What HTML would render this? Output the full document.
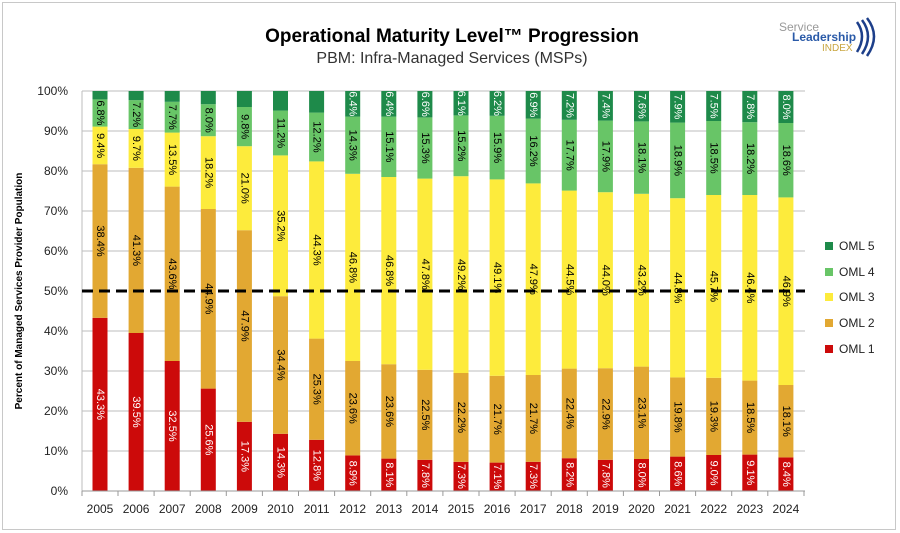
<!DOCTYPE html>
<html><head><meta charset="utf-8"><style>
body{margin:0;background:#fff}
svg{display:block;font-family:"Liberation Sans",sans-serif}
.l{font-size:11px;text-anchor:middle;dominant-baseline:central}
.w{fill:#fff}
.yt{font-size:12px;text-anchor:end;dominant-baseline:central;fill:#222}
.xt{font-size:12px;text-anchor:middle;fill:#222}
.r1{fill:#CC0A0A}.r2{fill:#E2A832}.r3{fill:#FDEB3C}.r4{fill:#68C567}.r5{fill:#1E8A4A}
</style></head><body>
<svg width="900" height="533" viewBox="0 0 900 533">
<rect x="2.5" y="2.5" width="893" height="527" fill="#fff" stroke="#c8c8c8"/>
<text x="452" y="42" font-size="19" font-weight="bold" text-anchor="middle">Operational Maturity Level™ Progression</text>
<text x="452" y="63" font-size="16" text-anchor="middle" fill="#333">PBM: Infra-Managed Services (MSPs)</text>
<text x="779" y="31" font-size="12" fill="#999">Service</text>
<text x="792" y="41" font-size="12" fill="#2a5aa8" font-weight="bold">Leadership</text>
<text x="822" y="51" font-size="10" fill="#c9a640">INDEX</text>
<path d="M857 22 q10 14 0 30 M862 20 q12 16 0 34 M867 18 q14 18 0 38" stroke="#1d3f8a" stroke-width="2.5" fill="none"/>
<g stroke="#bdbdbd" stroke-width="1">
<line x1="82" y1="91" x2="805" y2="91"/><line x1="82" y1="131" x2="805" y2="131"/><line x1="82" y1="171" x2="805" y2="171"/><line x1="82" y1="211" x2="805" y2="211"/><line x1="82" y1="251" x2="805" y2="251"/><line x1="82" y1="331" x2="805" y2="331"/><line x1="82" y1="371" x2="805" y2="371"/><line x1="82" y1="411" x2="805" y2="411"/><line x1="82" y1="451" x2="805" y2="451"/><line x1="82" y1="491" x2="805" y2="491"/>
<line x1="82" y1="91" x2="82" y2="491"/>
</g>
<g class="yt">
<text x="68" y="91">100%</text><text x="68" y="131">90%</text><text x="68" y="171">80%</text><text x="68" y="211">70%</text><text x="68" y="251">60%</text><text x="68" y="291">50%</text><text x="68" y="331">40%</text><text x="68" y="371">30%</text><text x="68" y="411">20%</text><text x="68" y="451">10%</text><text x="68" y="491">0%</text>
</g>
<text transform="translate(22,291) rotate(-90)" font-size="10" font-weight="bold" text-anchor="middle">Percent of Managed Services Provider Population</text>

<g transform="translate(100,0)"><rect class="r1" x="-7.5" y="317.8" width="15" height="173.2"/><rect class="r2" x="-7.5" y="164.2" width="15" height="153.6"/><rect class="r3" x="-7.5" y="126.6" width="15" height="37.6"/><rect class="r4" x="-7.5" y="99.4" width="15" height="27.2"/><rect class="r5" x="-7.5" y="91" width="15" height="8.4"/>
<text class="l w" transform="translate(0,404.4) rotate(90)">43.3%</text><text class="l" transform="translate(0,241) rotate(90)">38.4%</text><text class="l" transform="translate(0,145.6) rotate(90)">9.4%</text><text class="l" transform="translate(0,112.9) rotate(90)">6.8%</text></g>
<g transform="translate(136.1,0)"><rect class="r1" x="-7.5" y="333" width="15" height="158"/><rect class="r2" x="-7.5" y="167.8" width="15" height="165.2"/><rect class="r3" x="-7.5" y="129" width="15" height="38.8"/><rect class="r4" x="-7.5" y="100.2" width="15" height="28.8"/><rect class="r5" x="-7.5" y="91" width="15" height="9.2"/>
<text class="l w" transform="translate(0,412) rotate(90)">39.5%</text><text class="l" transform="translate(0,250.4) rotate(90)">41.3%</text><text class="l" transform="translate(0,148.4) rotate(90)">9.7%</text><text class="l" transform="translate(0,114.6) rotate(90)">7.2%</text></g>
<g transform="translate(172.2,0)"><rect class="r1" x="-7.5" y="361" width="15" height="130"/><rect class="r2" x="-7.5" y="186.6" width="15" height="174.4"/><rect class="r3" x="-7.5" y="132.6" width="15" height="54"/><rect class="r4" x="-7.5" y="101.8" width="15" height="30.8"/><rect class="r5" x="-7.5" y="91" width="15" height="10.8"/>
<text class="l w" transform="translate(0,426) rotate(90)">32.5%</text><text class="l" transform="translate(0,273.8) rotate(90)">43.6%</text><text class="l" transform="translate(0,159.6) rotate(90)">13.5%</text><text class="l" transform="translate(0,117.2) rotate(90)">7.7%</text></g>
<g transform="translate(208.3,0)"><rect class="r1" x="-7.5" y="388.6" width="15" height="102.4"/><rect class="r2" x="-7.5" y="209" width="15" height="179.6"/><rect class="r3" x="-7.5" y="136.2" width="15" height="72.8"/><rect class="r4" x="-7.5" y="104.2" width="15" height="32"/><rect class="r5" x="-7.5" y="91" width="15" height="13.2"/>
<text class="l w" transform="translate(0,439.8) rotate(90)">25.6%</text><text class="l" transform="translate(0,298.8) rotate(90)">44.9%</text><text class="l" transform="translate(0,172.6) rotate(90)">18.2%</text><text class="l" transform="translate(0,120.2) rotate(90)">8.0%</text></g>
<g transform="translate(244.4,0)"><rect class="r1" x="-7.5" y="421.8" width="15" height="69.2"/><rect class="r2" x="-7.5" y="230.2" width="15" height="191.6"/><rect class="r3" x="-7.5" y="146.2" width="15" height="84"/><rect class="r4" x="-7.5" y="107" width="15" height="39.2"/><rect class="r5" x="-7.5" y="91" width="15" height="16"/>
<text class="l w" transform="translate(0,456.4) rotate(90)">17.3%</text><text class="l" transform="translate(0,326) rotate(90)">47.9%</text><text class="l" transform="translate(0,188.2) rotate(90)">21.0%</text><text class="l" transform="translate(0,126.6) rotate(90)">9.8%</text></g>
<g transform="translate(280.5,0)"><rect class="r1" x="-7.5" y="433.8" width="15" height="57.2"/><rect class="r2" x="-7.5" y="296.2" width="15" height="137.6"/><rect class="r3" x="-7.5" y="155.4" width="15" height="140.8"/><rect class="r4" x="-7.5" y="110.6" width="15" height="44.8"/><rect class="r5" x="-7.5" y="91" width="15" height="19.6"/>
<text class="l w" transform="translate(0,462.4) rotate(90)">14.3%</text><text class="l" transform="translate(0,365) rotate(90)">34.4%</text><text class="l" transform="translate(0,225.8) rotate(90)">35.2%</text><text class="l" transform="translate(0,133) rotate(90)">11.2%</text></g>
<g transform="translate(316.6,0)"><rect class="r1" x="-7.5" y="439.8" width="15" height="51.2"/><rect class="r2" x="-7.5" y="338.6" width="15" height="101.2"/><rect class="r3" x="-7.5" y="161.4" width="15" height="177.2"/><rect class="r4" x="-7.5" y="112.6" width="15" height="48.8"/><rect class="r5" x="-7.5" y="91" width="15" height="21.6"/>
<text class="l w" transform="translate(0,465.4) rotate(90)">12.8%</text><text class="l" transform="translate(0,389.2) rotate(90)">25.3%</text><text class="l" transform="translate(0,250) rotate(90)">44.3%</text><text class="l" transform="translate(0,137) rotate(90)">12.2%</text></g>
<g transform="translate(352.7,0)"><rect class="r1" x="-7.5" y="455.4" width="15" height="35.6"/><rect class="r2" x="-7.5" y="361" width="15" height="94.4"/><rect class="r3" x="-7.5" y="173.8" width="15" height="187.2"/><rect class="r4" x="-7.5" y="116.6" width="15" height="57.2"/><rect class="r5" x="-7.5" y="91" width="15" height="25.6"/>
<text class="l w" transform="translate(0,473.2) rotate(90)">8.9%</text><text class="l" transform="translate(0,408.2) rotate(90)">23.6%</text><text class="l" transform="translate(0,267.4) rotate(90)">46.8%</text><text class="l" transform="translate(0,145.2) rotate(90)">14.3%</text><text class="l w" transform="translate(0,103.8) rotate(90)">6.4%</text></g>
<g transform="translate(388.8,0)"><rect class="r1" x="-7.5" y="458.6" width="15" height="32.4"/><rect class="r2" x="-7.5" y="364.2" width="15" height="94.4"/><rect class="r3" x="-7.5" y="177" width="15" height="187.2"/><rect class="r4" x="-7.5" y="116.6" width="15" height="60.4"/><rect class="r5" x="-7.5" y="91" width="15" height="25.6"/>
<text class="l w" transform="translate(0,474.8) rotate(90)">8.1%</text><text class="l" transform="translate(0,411.4) rotate(90)">23.6%</text><text class="l" transform="translate(0,270.6) rotate(90)">46.8%</text><text class="l" transform="translate(0,146.8) rotate(90)">15.1%</text><text class="l w" transform="translate(0,103.8) rotate(90)">6.4%</text></g>
<g transform="translate(424.9,0)"><rect class="r1" x="-7.5" y="459.8" width="15" height="31.2"/><rect class="r2" x="-7.5" y="369.8" width="15" height="90"/><rect class="r3" x="-7.5" y="178.6" width="15" height="191.2"/><rect class="r4" x="-7.5" y="117.4" width="15" height="61.2"/><rect class="r5" x="-7.5" y="91" width="15" height="26.4"/>
<text class="l w" transform="translate(0,475.4) rotate(90)">7.8%</text><text class="l" transform="translate(0,414.8) rotate(90)">22.5%</text><text class="l" transform="translate(0,274.2) rotate(90)">47.8%</text><text class="l" transform="translate(0,148) rotate(90)">15.3%</text><text class="l w" transform="translate(0,104.2) rotate(90)">6.6%</text></g>
<g transform="translate(461,0)"><rect class="r1" x="-7.5" y="461.8" width="15" height="29.2"/><rect class="r2" x="-7.5" y="373" width="15" height="88.8"/><rect class="r3" x="-7.5" y="176.2" width="15" height="196.8"/><rect class="r4" x="-7.5" y="115.4" width="15" height="60.8"/><rect class="r5" x="-7.5" y="91" width="15" height="24.4"/>
<text class="l w" transform="translate(0,476.4) rotate(90)">7.3%</text><text class="l" transform="translate(0,417.4) rotate(90)">22.2%</text><text class="l" transform="translate(0,274.6) rotate(90)">49.2%</text><text class="l" transform="translate(0,145.8) rotate(90)">15.2%</text><text class="l w" transform="translate(0,103.2) rotate(90)">6.1%</text></g>
<g transform="translate(497.1,0)"><rect class="r1" x="-7.5" y="462.6" width="15" height="28.4"/><rect class="r2" x="-7.5" y="375.8" width="15" height="86.8"/><rect class="r3" x="-7.5" y="179.4" width="15" height="196.4"/><rect class="r4" x="-7.5" y="115.8" width="15" height="63.6"/><rect class="r5" x="-7.5" y="91" width="15" height="24.8"/>
<text class="l w" transform="translate(0,476.8) rotate(90)">7.1%</text><text class="l" transform="translate(0,419.2) rotate(90)">21.7%</text><text class="l" transform="translate(0,277.6) rotate(90)">49.1%</text><text class="l" transform="translate(0,147.6) rotate(90)">15.9%</text><text class="l w" transform="translate(0,103.4) rotate(90)">6.2%</text></g>
<g transform="translate(533.2,0)"><rect class="r1" x="-7.5" y="461.8" width="15" height="29.2"/><rect class="r2" x="-7.5" y="375" width="15" height="86.8"/><rect class="r3" x="-7.5" y="183.4" width="15" height="191.6"/><rect class="r4" x="-7.5" y="118.6" width="15" height="64.8"/><rect class="r5" x="-7.5" y="91" width="15" height="27.6"/>
<text class="l w" transform="translate(0,476.4) rotate(90)">7.3%</text><text class="l" transform="translate(0,418.4) rotate(90)">21.7%</text><text class="l" transform="translate(0,279.2) rotate(90)">47.9%</text><text class="l" transform="translate(0,151) rotate(90)">16.2%</text><text class="l w" transform="translate(0,104.8) rotate(90)">6.9%</text></g>
<g transform="translate(569.3,0)"><rect class="r1" x="-7.5" y="458.2" width="15" height="32.8"/><rect class="r2" x="-7.5" y="368.6" width="15" height="89.6"/><rect class="r3" x="-7.5" y="190.6" width="15" height="178"/><rect class="r4" x="-7.5" y="119.8" width="15" height="70.8"/><rect class="r5" x="-7.5" y="91" width="15" height="28.8"/>
<text class="l w" transform="translate(0,474.6) rotate(90)">8.2%</text><text class="l" transform="translate(0,413.4) rotate(90)">22.4%</text><text class="l" transform="translate(0,279.6) rotate(90)">44.5%</text><text class="l" transform="translate(0,155.2) rotate(90)">17.7%</text><text class="l w" transform="translate(0,105.4) rotate(90)">7.2%</text></g>
<g transform="translate(605.4,0)"><rect class="r1" x="-7.5" y="459.8" width="15" height="31.2"/><rect class="r2" x="-7.5" y="368.2" width="15" height="91.6"/><rect class="r3" x="-7.5" y="192.2" width="15" height="176"/><rect class="r4" x="-7.5" y="120.6" width="15" height="71.6"/><rect class="r5" x="-7.5" y="91" width="15" height="29.6"/>
<text class="l w" transform="translate(0,475.4) rotate(90)">7.8%</text><text class="l" transform="translate(0,414) rotate(90)">22.9%</text><text class="l" transform="translate(0,280.2) rotate(90)">44.0%</text><text class="l" transform="translate(0,156.4) rotate(90)">17.9%</text><text class="l w" transform="translate(0,105.8) rotate(90)">7.4%</text></g>
<g transform="translate(641.5,0)"><rect class="r1" x="-7.5" y="459" width="15" height="32"/><rect class="r2" x="-7.5" y="366.6" width="15" height="92.4"/><rect class="r3" x="-7.5" y="193.8" width="15" height="172.8"/><rect class="r4" x="-7.5" y="121.4" width="15" height="72.4"/><rect class="r5" x="-7.5" y="91" width="15" height="30.4"/>
<text class="l w" transform="translate(0,475) rotate(90)">8.0%</text><text class="l" transform="translate(0,412.8) rotate(90)">23.1%</text><text class="l" transform="translate(0,280.2) rotate(90)">43.2%</text><text class="l" transform="translate(0,157.6) rotate(90)">18.1%</text><text class="l w" transform="translate(0,106.2) rotate(90)">7.6%</text></g>
<g transform="translate(677.6,0)"><rect class="r1" x="-7.5" y="456.6" width="15" height="34.4"/><rect class="r2" x="-7.5" y="377.4" width="15" height="79.2"/><rect class="r3" x="-7.5" y="198.2" width="15" height="179.2"/><rect class="r4" x="-7.5" y="122.6" width="15" height="75.6"/><rect class="r5" x="-7.5" y="91" width="15" height="31.6"/>
<text class="l w" transform="translate(0,473.8) rotate(90)">8.6%</text><text class="l" transform="translate(0,417) rotate(90)">19.8%</text><text class="l" transform="translate(0,287.8) rotate(90)">44.8%</text><text class="l" transform="translate(0,160.4) rotate(90)">18.9%</text><text class="l w" transform="translate(0,106.8) rotate(90)">7.9%</text></g>
<g transform="translate(713.7,0)"><rect class="r1" x="-7.5" y="455" width="15" height="36"/><rect class="r2" x="-7.5" y="377.8" width="15" height="77.2"/><rect class="r3" x="-7.5" y="195" width="15" height="182.8"/><rect class="r4" x="-7.5" y="121" width="15" height="74"/><rect class="r5" x="-7.5" y="91" width="15" height="30"/>
<text class="l w" transform="translate(0,473) rotate(90)">9.0%</text><text class="l" transform="translate(0,416.4) rotate(90)">19.3%</text><text class="l" transform="translate(0,286.4) rotate(90)">45.7%</text><text class="l" transform="translate(0,158) rotate(90)">18.5%</text><text class="l w" transform="translate(0,106) rotate(90)">7.5%</text></g>
<g transform="translate(749.8,0)"><rect class="r1" x="-7.5" y="454.6" width="15" height="36.4"/><rect class="r2" x="-7.5" y="380.6" width="15" height="74"/><rect class="r3" x="-7.5" y="195" width="15" height="185.6"/><rect class="r4" x="-7.5" y="122.2" width="15" height="72.8"/><rect class="r5" x="-7.5" y="91" width="15" height="31.2"/>
<text class="l w" transform="translate(0,472.8) rotate(90)">9.1%</text><text class="l" transform="translate(0,417.6) rotate(90)">18.5%</text><text class="l" transform="translate(0,287.8) rotate(90)">46.4%</text><text class="l" transform="translate(0,158.6) rotate(90)">18.2%</text><text class="l w" transform="translate(0,106.6) rotate(90)">7.8%</text></g>
<g transform="translate(785.9,0)"><rect class="r1" x="-7.5" y="457.4" width="15" height="33.6"/><rect class="r2" x="-7.5" y="385" width="15" height="72.4"/><rect class="r3" x="-7.5" y="197.4" width="15" height="187.6"/><rect class="r4" x="-7.5" y="123" width="15" height="74.4"/><rect class="r5" x="-7.5" y="91" width="15" height="32"/>
<text class="l w" transform="translate(0,474.2) rotate(90)">8.4%</text><text class="l" transform="translate(0,421.2) rotate(90)">18.1%</text><text class="l" transform="translate(0,291.2) rotate(90)">46.9%</text><text class="l" transform="translate(0,160.2) rotate(90)">18.6%</text><text class="l w" transform="translate(0,107) rotate(90)">8.0%</text></g>

<line x1="82" y1="291" x2="805" y2="291" stroke="#000" stroke-width="3" stroke-dasharray="11,6"/>
<line x1="82" y1="491" x2="805" y2="491" stroke="#999"/>
<g stroke="#999"><line x1="82" y1="491" x2="82" y2="496"/><line x1="118" y1="491" x2="118" y2="496"/><line x1="154.1" y1="491" x2="154.1" y2="496"/><line x1="190.2" y1="491" x2="190.2" y2="496"/><line x1="226.3" y1="491" x2="226.3" y2="496"/><line x1="262.4" y1="491" x2="262.4" y2="496"/><line x1="298.5" y1="491" x2="298.5" y2="496"/><line x1="334.6" y1="491" x2="334.6" y2="496"/><line x1="370.7" y1="491" x2="370.7" y2="496"/><line x1="406.8" y1="491" x2="406.8" y2="496"/><line x1="442.9" y1="491" x2="442.9" y2="496"/><line x1="479" y1="491" x2="479" y2="496"/><line x1="515.1" y1="491" x2="515.1" y2="496"/><line x1="551.2" y1="491" x2="551.2" y2="496"/><line x1="587.3" y1="491" x2="587.3" y2="496"/><line x1="623.4" y1="491" x2="623.4" y2="496"/><line x1="659.5" y1="491" x2="659.5" y2="496"/><line x1="695.6" y1="491" x2="695.6" y2="496"/><line x1="731.7" y1="491" x2="731.7" y2="496"/><line x1="767.8" y1="491" x2="767.8" y2="496"/><line x1="804" y1="491" x2="804" y2="496"/></g>
<g class="xt">
<text x="100" y="513">2005</text><text x="136.1" y="513">2006</text><text x="172.2" y="513">2007</text><text x="208.3" y="513">2008</text><text x="244.4" y="513">2009</text><text x="280.5" y="513">2010</text><text x="316.6" y="513">2011</text><text x="352.7" y="513">2012</text><text x="388.8" y="513">2013</text><text x="424.9" y="513">2014</text><text x="461" y="513">2015</text><text x="497.1" y="513">2016</text><text x="533.2" y="513">2017</text><text x="569.3" y="513">2018</text><text x="605.4" y="513">2019</text><text x="641.5" y="513">2020</text><text x="677.6" y="513">2021</text><text x="713.7" y="513">2022</text><text x="749.8" y="513">2023</text><text x="785.9" y="513">2024</text>
</g>
<g font-size="12" fill="#222">
<rect class="r5" x="825" y="242" width="8" height="8"/><text x="839" y="250">OML 5</text>
<rect class="r4" x="825" y="268" width="8" height="8"/><text x="839" y="276">OML 4</text>
<rect class="r3" x="825" y="293" width="8" height="8"/><text x="839" y="301">OML 3</text>
<rect class="r2" x="825" y="319" width="8" height="8"/><text x="839" y="327">OML 2</text>
<rect class="r1" x="825" y="345" width="8" height="8"/><text x="839" y="353">OML 1</text>
</g>
</svg>
</body></html>
